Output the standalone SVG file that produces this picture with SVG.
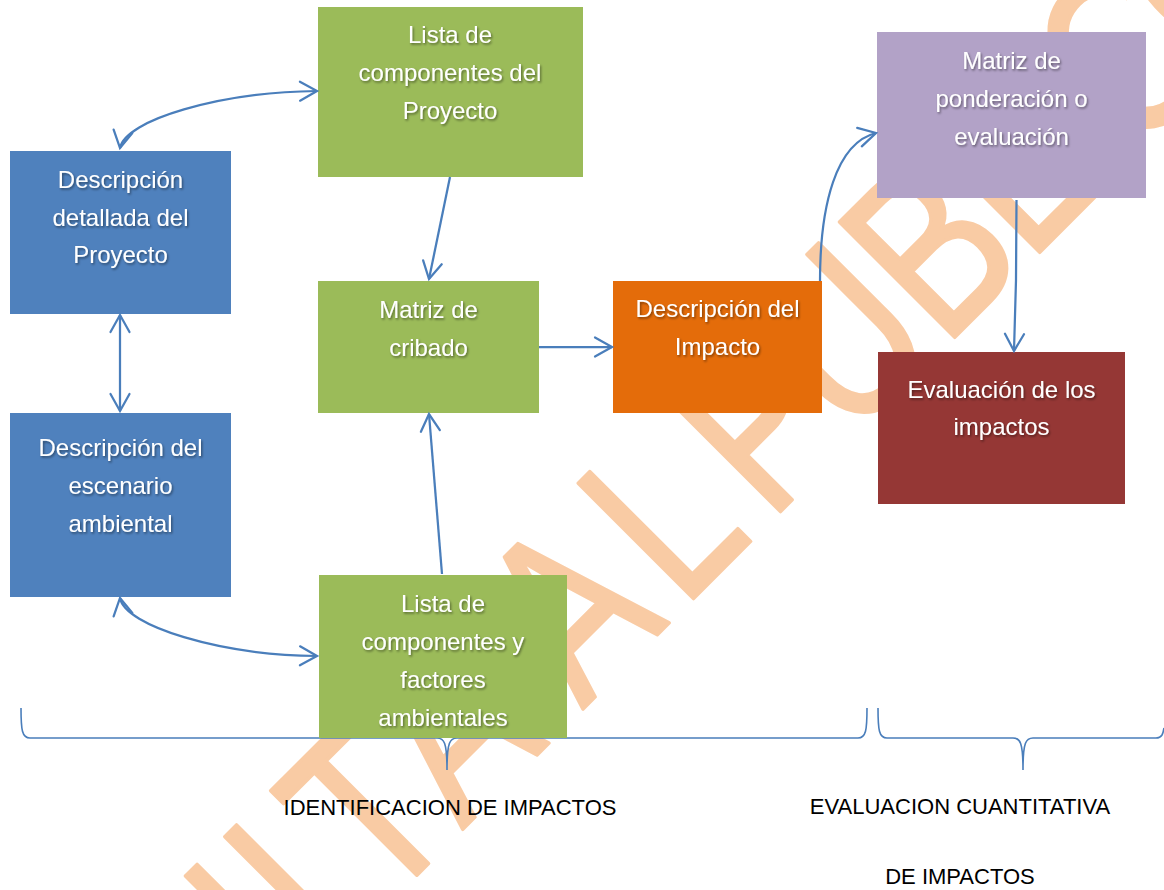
<svg xmlns="http://www.w3.org/2000/svg" width="1164" height="890" viewBox="0 0 1164 890">
<defs>
<style>
.wm{font-family:"Liberation Sans",Arial,sans-serif;font-size:237px;fill:#F9CBA4;stroke:#F9CBA4;stroke-width:3.5;stroke-linejoin:round}
.box text{font-family:"Liberation Sans",Arial,sans-serif;font-size:24px;fill:#FFFFFF;text-anchor:middle;filter:url(#sh)}
.lbl{font-family:"Liberation Sans",Arial,sans-serif;font-size:22px;fill:#000000;text-anchor:middle}
.conn path{fill:none;stroke:#4A7EBB;stroke-width:2.25}
.brace path{fill:none;stroke:#4A7EBB;stroke-width:1.6}
</style>
<filter id="sh" x="-10%" y="-30%" width="130%" height="170%">
<feDropShadow dx="1.2" dy="1.6" stdDeviation="1" flood-color="#000000" flood-opacity="0.45"/>
</filter>
<marker id="ah" markerUnits="userSpaceOnUse" markerWidth="24" markerHeight="24" viewBox="-20 -12 24 24" refX="0" refY="0" orient="auto-start-reverse">
<path d="M-17,-9.5 L0,0 L-17,9.5" fill="none" stroke="#4A7EBB" stroke-width="2.25" stroke-linecap="round"/>
</marker>
</defs>
<rect width="1164" height="890" fill="#FFFFFF"/>
<g id="watermark">
<text class="wm" transform="translate(646,646) rotate(-45) scale(0.78,1)" x="-1192 -1051 -923 -795 -672 -544 -405 -254 -145 -36 132 218 303 455 619 760 853 968 1122" y="0" text-anchor="middle">GRATUITA AL PUBLICO</text>
</g>
<g id="braces" class="brace">
<path d="M21,708 C21,730 22,738 30,738 L437,738 C444,738 447,742 447,770 C447,742 450,738 457,738 L858,738 C866,738 867,730 867,708"/>
<path d="M878,708 C878,730 879,738 887,738 L1013,738 C1020,738 1023,742 1023,770 C1023,742 1026,738 1033,738 L1156,738 C1162,738 1163,734 1164,728"/>
</g>
<g id="n-lista-proyecto" class="box">
<rect x="318" y="7" width="265" height="170" fill="#9BBB59"/>
<text x="450" y="43">Lista de</text>
<text x="450" y="81">componentes del</text>
<text x="450" y="119">Proyecto</text>
</g>
<g id="n-desc-proyecto" class="box">
<rect x="10" y="151" width="221" height="163" fill="#4F81BD"/>
<text x="120.5" y="188">Descripción</text>
<text x="120.5" y="226">detallada del</text>
<text x="120.5" y="263">Proyecto</text>
</g>
<g id="n-matriz-cribado" class="box">
<rect x="318" y="281" width="221" height="132" fill="#9BBB59"/>
<text x="428.5" y="318">Matriz de</text>
<text x="428.5" y="356">cribado</text>
</g>
<g id="n-desc-escenario" class="box">
<rect x="10" y="413" width="221" height="184" fill="#4F81BD"/>
<text x="120.5" y="456">Descripción del</text>
<text x="120.5" y="494">escenario</text>
<text x="120.5" y="532">ambiental</text>
</g>
<g id="n-lista-factores" class="box">
<rect x="319" y="575" width="248" height="163" fill="#9BBB59"/>
<text x="443" y="612">Lista de</text>
<text x="443" y="650">componentes y</text>
<text x="443" y="688">factores</text>
<text x="443" y="726">ambientales</text>
</g>
<g id="n-desc-impacto" class="box">
<rect x="613" y="281" width="209" height="132" fill="#E46C0A"/>
<text x="717.5" y="317">Descripción del</text>
<text x="717.5" y="355">Impacto</text>
</g>
<g id="n-matriz-ponderacion" class="box">
<rect x="877" y="32" width="269" height="166" fill="#B2A2C7"/>
<text x="1011.5" y="69">Matriz de</text>
<text x="1011.5" y="107">ponderación o</text>
<text x="1011.5" y="145">evaluación</text>
</g>
<g id="n-evaluacion-impactos" class="box">
<rect x="878" y="352" width="247" height="152" fill="#953735"/>
<text x="1001.5" y="398">Evaluación de los</text>
<text x="1001.5" y="435">impactos</text>
</g>
<g id="connectors" class="conn">
<path d="M120,148 C125,120 220,92 317,91" marker-start="url(#ah)" marker-end="url(#ah)"/>
<path d="M120,315 L120,411" marker-start="url(#ah)" marker-end="url(#ah)"/>
<path d="M120,598 C125,626 220,655 317,656" marker-start="url(#ah)" marker-end="url(#ah)"/>
<path d="M450,177 L429,279" marker-end="url(#ah)"/>
<path d="M442,574 L429,414" marker-end="url(#ah)"/>
<path d="M539,347 L612,347" marker-end="url(#ah)"/>
<path d="M820,281 C820,205 836,143 876,133" marker-end="url(#ah)"/>
<path d="M1016.5,200 L1016,280 L1014,351" marker-end="url(#ah)"/>
</g>
<g id="labels">
<text class="lbl" x="450" y="815">IDENTIFICACION DE IMPACTOS</text>
<text class="lbl" x="960" y="814">EVALUACION CUANTITATIVA</text>
<text class="lbl" x="960" y="884">DE IMPACTOS</text>
</g>
</svg>
